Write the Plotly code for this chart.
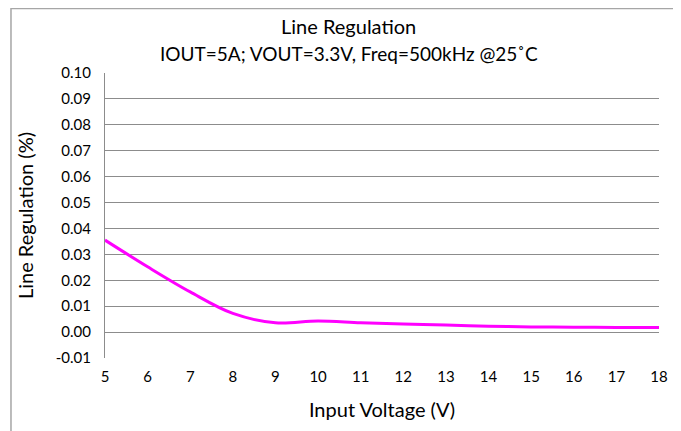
import plotly.graph_objects as go

vin = [5, 6, 7, 8, 9, 10, 11, 12, 13, 14, 15, 16, 17, 18]
line_reg = [0.0355, 0.0252, 0.0155, 0.0072, 0.0036, 0.0043, 0.0036, 0.0031,
            0.0027, 0.0023, 0.0020, 0.0019, 0.0018, 0.0018]
y_ticks = [-0.01, 0.0, 0.01, 0.02, 0.03, 0.04, 0.05, 0.06, 0.07, 0.08, 0.09, 0.10]
x_ticks = list(range(5, 19))
title_text = "Line Regulation"
subtitle_text = "IOUT=5A; VOUT=3.3V, Freq=500kHz @25˚C"

FONT = "Lato"
fig = go.Figure()
fig.add_trace(go.Scatter(x=vin, y=line_reg, mode="lines",
                         line=dict(color="#FF00FF", width=3, shape="spline", smoothing=1.0),
                         showlegend=False, hoverinfo="x+y"))

# page body has an 8px default margin, so the figure is sized to fit the window
fig.update_layout(
    width=673, height=423,
    margin=dict(l=97, r=22, t=65, b=73),
    paper_bgcolor="white", plot_bgcolor="white",
    font=dict(family=FONT, color="#000000"),
    xaxis=dict(range=[5, 18], tickvals=x_ticks, ticktext=[str(v) for v in x_ticks],
               showgrid=False, zeroline=False, showline=False,
               ticks="", tickfont=dict(family=FONT, size=15), ticklabelstandoff=8,
               title=dict(text="Input Voltage (V)", font=dict(family=FONT, size=20), standoff=18)),
    yaxis=dict(range=[-0.01, 0.10], tickvals=y_ticks,
               ticktext=[f"{v:.2f}" for v in y_ticks],
               showgrid=True, gridcolor="#8c8c8c", gridwidth=1,
               zeroline=True, zerolinecolor="#8c8c8c", zerolinewidth=1,
               showline=True, linecolor="#8c8c8c", linewidth=1, mirror=False,
               ticks="", tickfont=dict(family=FONT, size=15), ticklabelstandoff=10,
               title=dict(text="Line Regulation (%)", font=dict(family=FONT, size=20), standoff=16)),
    annotations=[
        dict(text=title_text, xref="paper", yref="paper", x=0.44, y=1.165,
             xanchor="center", yanchor="middle", showarrow=False,
             font=dict(family=FONT, size=20)),
        dict(text=subtitle_text, xref="paper", yref="paper", x=0.44, y=1.070,
             xanchor="center", yanchor="middle", showarrow=False,
             font=dict(family=FONT, size=19)),
    ],
    shapes=[dict(type="rect", xref="paper", yref="paper",
                 x0=-0.1697, x1=1.027, y0=-0.3, y1=1.226,
                 line=dict(color="#a6a6a6", width=1.5), fillcolor="rgba(0,0,0,0)", layer="below")],
)

fig.write_html("out.html")
